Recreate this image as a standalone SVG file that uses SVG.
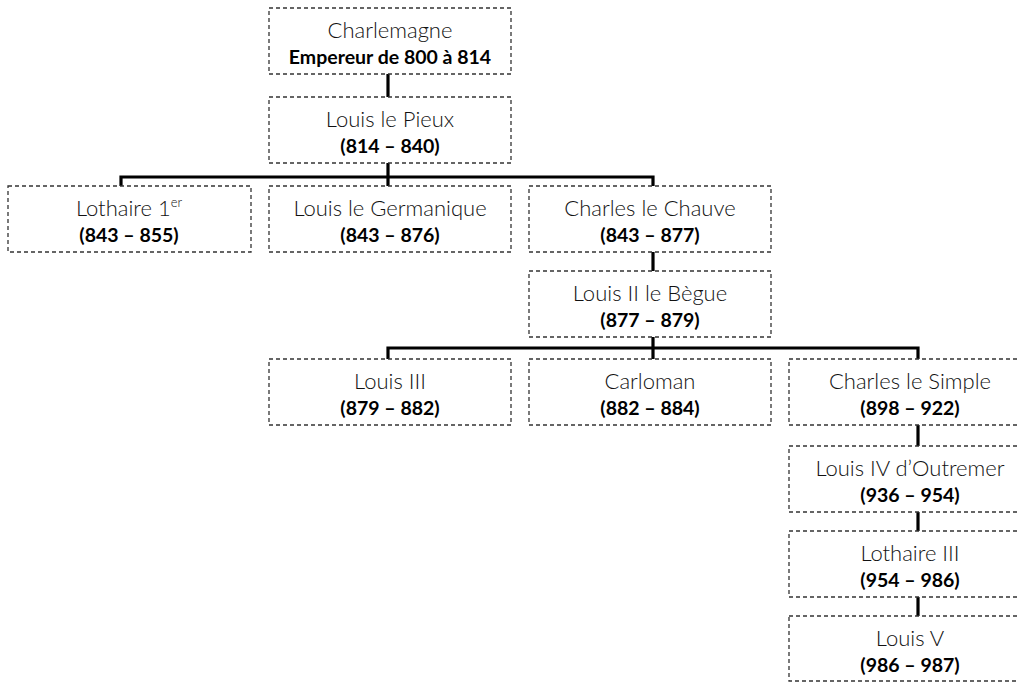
<svg xmlns="http://www.w3.org/2000/svg" width="1019" height="683" viewBox="0 0 1019 683">
<style>
.box{fill:#fff;stroke:#333;stroke-width:1.3;stroke-dasharray:4 3}
.nm{font-family:Lato,"Open Sans",sans-serif;font-weight:300;font-size:22px;fill:#111;text-anchor:middle}
.dt{font-family:Lato,"Open Sans",sans-serif;font-weight:700;font-size:19.5px;fill:#000;text-anchor:middle}
.sup{font-size:13px}
.con{fill:none;stroke:#000;stroke-width:3.2}
</style>
<rect width="1019" height="683" fill="#fff"/>
<g id="connectors">
<path class="con" d="M388 74V97"/>
<path class="con" d="M388 163V186M121 186V177H653V186"/>
<path class="con" d="M653 252V271"/>
<path class="con" d="M653 337V359M388 359V348H918V359"/>
<path class="con" d="M918 425V446"/>
<path class="con" d="M918 512V531"/>
<path class="con" d="M918 597V616"/>
</g>
<g id="charlemagne"><rect class="box" x="269" y="8" width="242" height="66"/><text class="nm" x="390" y="38">Charlemagne</text><text class="dt" x="390" y="64">Empereur de 800 à 814</text></g>
<g id="louis-le-pieux"><rect class="box" x="269" y="97" width="242" height="66"/><text class="nm" x="390" y="127">Louis le Pieux</text><text class="dt" x="390" y="153">(814 – 840)</text></g>
<g id="lothaire-1"><rect class="box" x="8" y="186" width="243" height="66"/><text class="nm" x="129" y="216">Lothaire 1<tspan class="sup" dy="-9">er</tspan></text><text class="dt" x="129" y="242">(843 – 855)</text></g>
<g id="louis-le-germanique"><rect class="box" x="269" y="186" width="242" height="66"/><text class="nm" x="390" y="216">Louis le Germanique</text><text class="dt" x="390" y="242">(843 – 876)</text></g>
<g id="charles-le-chauve"><rect class="box" x="529" y="186" width="242" height="66"/><text class="nm" x="650" y="216">Charles le Chauve</text><text class="dt" x="650" y="242">(843 – 877)</text></g>
<g id="louis-ii"><rect class="box" x="529" y="271" width="242" height="66"/><text class="nm" x="650" y="301">Louis II le Bègue</text><text class="dt" x="650" y="327">(877 – 879)</text></g>
<g id="louis-iii"><rect class="box" x="269" y="359" width="242" height="66"/><text class="nm" x="390" y="389">Louis III</text><text class="dt" x="390" y="415">(879 – 882)</text></g>
<g id="carloman"><rect class="box" x="529" y="359" width="242" height="66"/><text class="nm" x="650" y="389">Carloman</text><text class="dt" x="650" y="415">(882 – 884)</text></g>
<g id="charles-le-simple"><rect class="box" x="789" y="359" width="242" height="66"/><text class="nm" x="910" y="389">Charles le Simple</text><text class="dt" x="910" y="415">(898 – 922)</text></g>
<g id="louis-iv"><rect class="box" x="789" y="446" width="242" height="66"/><text class="nm" x="910" y="476">Louis IV d’Outremer</text><text class="dt" x="910" y="502">(936 – 954)</text></g>
<g id="lothaire-iii"><rect class="box" x="789" y="531" width="242" height="66"/><text class="nm" x="910" y="561">Lothaire III</text><text class="dt" x="910" y="587">(954 – 986)</text></g>
<g id="louis-v"><rect class="box" x="789" y="616" width="242" height="65"/><text class="nm" x="910" y="646">Louis V</text><text class="dt" x="910" y="672">(986 – 987)</text></g>
</svg>
